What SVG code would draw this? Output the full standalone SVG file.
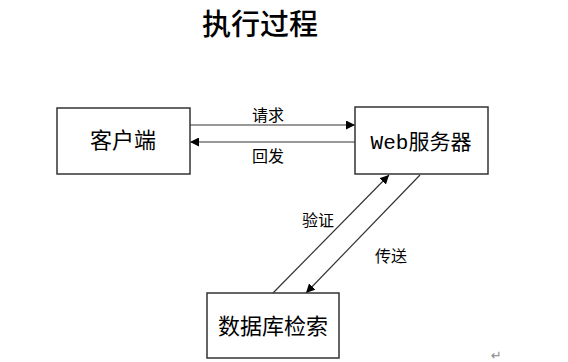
<svg xmlns="http://www.w3.org/2000/svg" width="568" height="362" viewBox="0 0 568 362">
<style>
.box{fill:#fff;stroke:#333;stroke-width:1.5}
.t{font-family:"Noto Sans CJK SC","Liberation Sans",sans-serif;fill:#000;text-anchor:middle}
.lab{font-size:16px}
.node{font-size:22px}
.ln{stroke:#333;stroke-width:1.2;fill:none}
</style>
<defs>
<marker id="ah" viewBox="0 0 10 10" refX="10" refY="5" markerWidth="9" markerHeight="9" markerUnits="userSpaceOnUse" orient="auto">
<path d="M0,0 L10,5 L0,10 Z" fill="#000"/>
</marker>
</defs>
<rect width="568" height="362" fill="#fff"/>
<text class="t" x="260" y="35" style="font-size:29px;font-weight:500">执行过程</text>
<g id="connectors">
<line class="ln" x1="190" y1="125" x2="355" y2="125" marker-end="url(#ah)"/>
<line class="ln" x1="355" y1="142" x2="190" y2="142" marker-end="url(#ah)"/>
<line class="ln" x1="273" y1="293" x2="389" y2="175" marker-end="url(#ah)"/>
<line class="ln" x1="420" y1="175" x2="306" y2="293" marker-end="url(#ah)"/>
<text class="t lab" x="268" y="121">请求</text>
<text class="t lab" x="268" y="162">回发</text>
<text class="t lab" x="318" y="226">验证</text>
<text class="t lab" x="391" y="262">传送</text>
</g>
<g id="client">
<rect class="box" x="57" y="108" width="133" height="66"/>
<text class="t node" x="123" y="148">客户端</text>
</g>
<g id="web">
<rect class="box" x="355" y="107" width="133" height="67"/>
<text class="t node" x="421" y="149" style="font-size:21px"><tspan style="font-family:'Liberation Mono',monospace">Web</tspan>服务器</text>
</g>
<g id="db">
<rect class="box" x="207" y="293" width="132" height="65"/>
<text class="t node" x="273" y="334">数据库检索</text>
</g>
<text x="491" y="360" style="font-family:'DejaVu Sans',sans-serif;font-size:13px;fill:#888">↵</text>
</svg>
